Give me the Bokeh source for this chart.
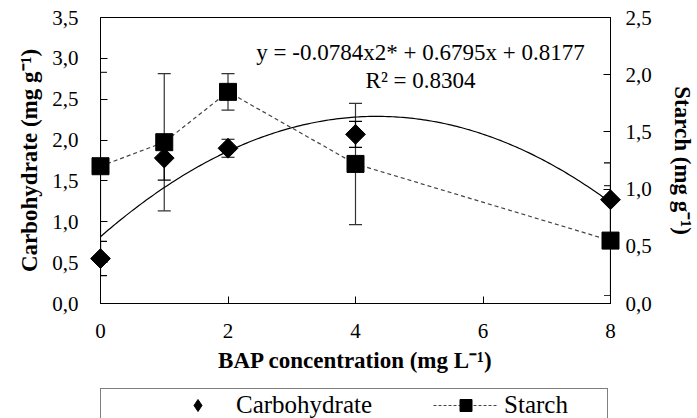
import numpy as np
from bokeh.plotting import figure
from bokeh.layouts import column
from bokeh.models import (ColumnDataSource, Range1d, LinearAxis, FixedTicker, Whisker,
                          TeeHead, Legend, LegendItem, Label)
from bokeh.embed import file_html
from bokeh.resources import INLINE

# ---- data ----
bap = [0, 1, 2, 4, 8]
carbohydrate = [0.55, 1.78, 1.90, 2.07, 1.27]
carbohydrate_err = [0.21, 0.27, 0.11, 0.16, 0.45]
starch = [1.20, 1.41, 1.85, 1.22, 0.55]
starch_err = [0.82, 0.60, 0.16, 0.53, 0.48]

# fitted trend line reported on the chart: y = a*x^2 + b*x + c
fit_a, fit_b, fit_c = -0.0784, 0.6795, 0.8177
eq_text = "y = -0.0784x2* + 0.6795x + 0.8177"
r2_text = "R\u00b2 = 0.8304"

x_ticks = [0, 2, 4, 6, 8]
left_ticks = [0.0, 0.5, 1.0, 1.5, 2.0, 2.5, 3.0, 3.5]
left_tick_labels = ["0,0", "0,5", "1,0", "1,5", "2,0", "2,5", "3,0", "3,5"]
right_ticks = [0.0, 0.5, 1.0, 1.5, 2.0, 2.5]
right_tick_labels = ["0,0", "0,5", "1,0", "1,5", "2,0", "2,5"]

x_title = "BAP concentration (mg L\u207b\u00b9)"
left_title = "Carbohydrate (mg g\u207b\u00b9)"
right_title = "Starch (mg g\u207b\u00b9)"
legend_labels = ["Carbohydrate", "Starch"]

FONT = "Liberation Serif"
W = 697

p = figure(width=W, height=388, output_backend="svg", toolbar_location=None,
           x_range=Range1d(0, 8), y_range=Range1d(0, 3.5),
           min_border_left=100, min_border_right=84, min_border_top=17, min_border_bottom=85)
p.extra_y_ranges = {"starch": Range1d(0, 2.5)}
p.xgrid.visible = False
p.ygrid.visible = False
p.outline_line_color = "black"
p.outline_line_width = 1
p.background_fill_color = "white"
p.border_fill_color = "white"

def style_axis(ax, ticks, labels, label_standoff, title_standoff):
    ax.ticker = FixedTicker(ticks=ticks)
    if labels is not None:
        ax.major_label_overrides = {t: l for t, l in zip(ticks, labels)}
    ax.major_tick_in = 7
    ax.major_tick_out = 0
    ax.minor_tick_in = 0
    ax.minor_tick_out = 0
    ax.axis_line_color = "black"
    ax.major_tick_line_color = "black"
    ax.major_label_text_font = FONT
    ax.major_label_text_font_size = "21px"
    ax.major_label_text_color = "black"
    ax.major_label_standoff = label_standoff
    ax.axis_label_text_font = FONT
    ax.axis_label_text_font_size = "23px"
    ax.axis_label_text_font_style = "bold"
    ax.axis_label_text_color = "black"
    ax.axis_label_standoff = title_standoff

style_axis(p.xaxis[0], x_ticks, None, 20, 7)
p.xaxis[0].axis_label = x_title
style_axis(p.yaxis[0], left_ticks, left_tick_labels, 22, 7)
p.yaxis[0].axis_label = left_title

right_axis = LinearAxis(y_range_name="starch", axis_label=right_title)
style_axis(right_axis, right_ticks, right_tick_labels, 15, 15)
p.add_layout(right_axis, "right")

# trend line from the reported coefficients
xs = np.linspace(0, 8, 200)
p.line(xs, fit_a * xs**2 + fit_b * xs + fit_c, line_color="black", line_width=1.2)

carb_src = ColumnDataSource(dict(
    x=bap, y=carbohydrate,
    lo=[v - e for v, e in zip(carbohydrate, carbohydrate_err)],
    hi=[v + e for v, e in zip(carbohydrate, carbohydrate_err)]))
starch_src = ColumnDataSource(dict(
    x=bap, y=starch,
    lo=[v - e for v, e in zip(starch, starch_err)],
    hi=[v + e for v, e in zip(starch, starch_err)]))

p.line("x", "y", source=starch_src, y_range_name="starch",
       line_color="#444444", line_width=1.2, line_dash="4 3")

w1 = Whisker(source=starch_src, base="x", lower="lo", upper="hi", y_range_name="starch",
             line_color="#333333", line_width=1.2,
             upper_head=TeeHead(size=13, line_color="#333333", line_width=1.2),
             lower_head=TeeHead(size=13, line_color="#333333", line_width=1.2))
w2 = Whisker(source=carb_src, base="x", lower="lo", upper="hi",
             line_color="black", line_width=1.2,
             upper_head=TeeHead(size=13, line_color="black", line_width=1.2),
             lower_head=TeeHead(size=13, line_color="black", line_width=1.2))
p.add_layout(w1)
p.add_layout(w2)

p.scatter("x", "y", source=starch_src, y_range_name="starch", marker="square",
          size=17, fill_color="black", line_color="black", level="overlay")
# diamonds drawn as squares turned by 45 degrees
p.scatter("x", "y", source=carb_src, marker="square", angle=np.pi / 4,
          size=14, fill_color="black", line_color="black", level="overlay")

p.add_layout(Label(x=5.02, y=3.07, text=eq_text, text_align="center", text_baseline="middle",
                   text_font=FONT, text_font_size="23px", text_color="black"))
p.add_layout(Label(x=5.02, y=2.73, text=r2_text, text_align="center", text_baseline="middle",
                   text_font=FONT, text_font_size="23px", text_color="black"))

# ---- legend strip below the chart ----
leg = figure(width=W, height=30, output_backend="svg", toolbar_location=None,
             x_axis_type=None, y_axis_type=None, x_range=Range1d(0, 8), y_range=Range1d(0, 3.5),
             min_border=0, min_border_left=0, min_border_right=0,
             min_border_top=0, min_border_bottom=0)
leg.xgrid.visible = False
leg.ygrid.visible = False
leg.outline_line_color = None
leg.background_fill_color = "white"
leg.border_fill_color = "white"

k_carb = leg.scatter("x", "y", source=carb_src, marker="diamond", size=20,
                     fill_color="black", line_color="black", visible=False)
k_starch_line = leg.line("x", "y", source=starch_src, line_color="#444444",
                         line_width=1.2, line_dash="3 2", visible=False)
k_starch_pts = leg.scatter("x", "y", source=starch_src, marker="square", size=17,
                           fill_color="black", line_color="black", visible=False)

legend = Legend(items=[LegendItem(label=legend_labels[0], renderers=[k_carb]),
                       LegendItem(label=legend_labels[1], renderers=[k_starch_line, k_starch_pts])],
                location=(0, -4), orientation="horizontal",
                glyph_width=65, glyph_height=30, label_height=20, label_standoff=6,
                spacing=61, padding=1, margin=0, label_width=102,
                label_text_font=FONT, label_text_font_size="25px", label_text_color="black",
                border_line_color="black", border_line_width=1,
                title=" ", title_location="left", title_text_font_size="1px", title_standoff=62)
leg.add_layout(legend)

layout = column(p, leg, spacing=0)
open("out.html", "w").write(file_html(layout, INLINE))
